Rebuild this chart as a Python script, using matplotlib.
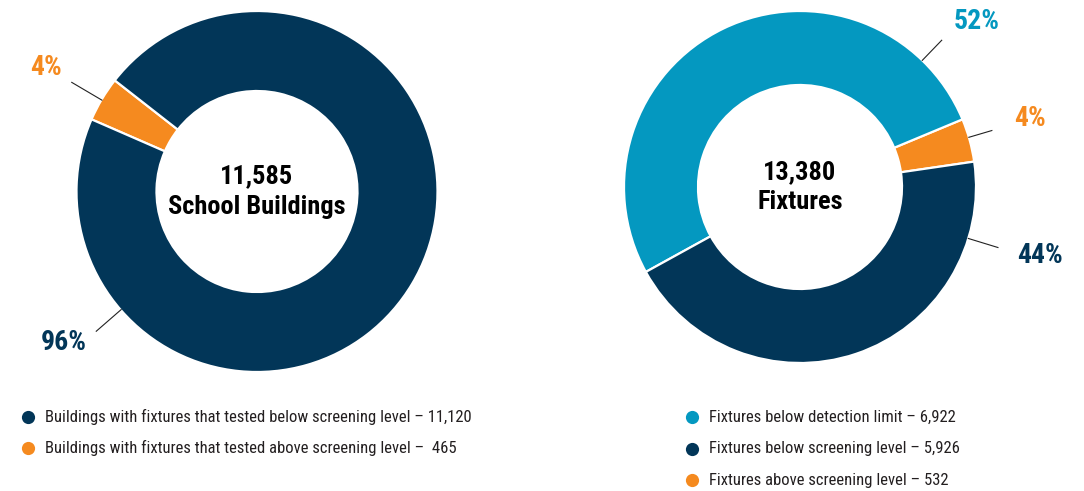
import numpy as np
import matplotlib
matplotlib.use("Agg")
import matplotlib.pyplot as plt

# ---- data ----
left_labels = ["Buildings with fixtures that tested above screening level", "Buildings with fixtures that tested below screening level"]
left_values = [465, 11120]
left_total_text = ["11,585", "School Buildings"]

right_labels = ["Fixtures above screening level", "Fixtures below detection limit", "Fixtures below screening level"]
right_values = [532, 6922, 5926]
right_total_text = ["13,380", "Fixtures"]

left_legend = ["Buildings with fixtures that tested below screening level \u2013 11,120",
               "Buildings with fixtures that tested above screening level \u2013  465"]
right_legend = ["Fixtures below detection limit \u2013 6,922",
                "Fixtures below screening level \u2013 5,926",
                "Fixtures above screening level \u2013 532"]

NAVY = "#023658"
ORANGE = "#F58A1F"
BLUE = "#0498C0"
TXT = "#231F20"

FONT = ["Roboto Condensed", "Liberation Sans Narrow", "DejaVu Sans"]
plt.rcParams["font.family"] = FONT

W, H = 1084, 491
fig = plt.figure(figsize=(W / 100, H / 100), dpi=100)
ax = fig.add_axes([0, 0, 1, 1])


def donut(values, colors, center_img, radius, width, start):
    cx, cy = center_img[0], H - center_img[1]
    ax.pie(values, colors=colors, startangle=start, counterclock=True,
           radius=radius, center=(cx, cy),
           wedgeprops=dict(width=width, edgecolor="white", linewidth=1.6))
    return cx, cy


def callout(cx, cy, ang, r1, r2, tang, rt, text, color):
    a = np.deg2rad(ang)
    ax.plot([cx + r1 * np.cos(a), cx + r2 * np.cos(a)],
            [cy + r1 * np.sin(a), cy + r2 * np.sin(a)], color="#222222", lw=0.8)
    b = np.deg2rad(tang)
    ax.text(cx + rt * np.cos(b), cy + rt * np.sin(b), text, color=color,
            fontsize=20, fontweight="bold", ha="center", va="center")


def center_text(cx, cy, lines):
    ax.text(cx, cy + 15, lines[0], ha="center", va="center", fontsize=19, fontweight="bold", color="black")
    ax.text(cx, cy - 15, lines[1], ha="center", va="center", fontsize=19, fontweight="bold", color="black")


# left donut
lcx, lcy = donut(left_values, [ORANGE, NAVY], (257, 191.5), 180.5, 80, 142)
center_text(lcx, lcy, left_total_text)
lpct = [round(100 * v / sum(left_values)) for v in left_values]
callout(lcx, lcy, 149.5, 180, 215, 149.5, 245, f"{lpct[0]}%", ORANGE)
callout(lcx, lcy, 221, 180, 213, 218, 245, f"{lpct[1]}%", NAVY)

# right donut
rcx, rcy = donut(right_values, [ORANGE, BLUE, NAVY], (800, 187), 176, 74, 8.3)
center_text(rcx, rcy, right_total_text)
rpct = [round(100 * v / sum(right_values)) for v in right_values]
callout(rcx, rcy, 16.4, 176, 200, 16.7, 240, f"{rpct[0]}%", ORANGE)
callout(rcx, rcy, 46, 176, 204, 43, 242, f"{rpct[1]}%", BLUE)
callout(rcx, rcy, -17, 176, 207, -16, 250, f"{rpct[2]}%", NAVY)

# legends
for i, (t, c) in enumerate(zip(left_legend, [NAVY, ORANGE])):
    y = H - (417 + 31 * i)
    ax.plot([28], [y], "o", color=c, ms=9.5, mec="none")
    ax.text(45, y, t, ha="left", va="center", fontsize=12, color=TXT)
for i, (t, c) in enumerate(zip(right_legend, [BLUE, NAVY, ORANGE])):
    y = H - (417 + 31.5 * i)
    ax.plot([692], [y], "o", color=c, ms=9.5, mec="none")
    ax.text(709, y, t, ha="left", va="center", fontsize=12, color=TXT)

ax.set_xlim(0, W)
ax.set_ylim(0, H)
ax.set_aspect("equal")
ax.axis("off")
fig.savefig("out.png", dpi=100, facecolor="white")
